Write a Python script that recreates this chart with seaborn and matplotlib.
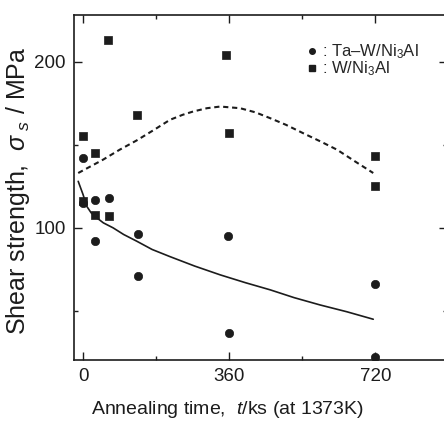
# Shear strength vs annealing time (Ta-W/Ni3Al and W/Ni3Al)
import numpy as np
import pandas as pd
import matplotlib
matplotlib.use("Agg")
import matplotlib.pyplot as plt
from matplotlib.ticker import MultipleLocator
from matplotlib.lines import Line2D
import seaborn as sns

# ---- data ----
# Ta-W/Ni3Al (circles)
taw_time = [0, 0, 30, 64, 30, 136, 358, 136, 720, 360, 720]
taw_strength = [142, 115, 117, 118, 92, 96, 95, 71, 66, 37, 22]

# W/Ni3Al (squares)
w_time = [62, 353, 133, 360, 0, 30, 720, 720, 0, 30, 64]
w_strength = [213, 204, 168, 157, 155, 145, 143, 125, 116, 108, 107]

# fitted trend curves
taw_curve_time = [-12, 0, 9, 20, 34, 50, 74, 100, 132, 170, 214, 275,
                  338, 400, 461, 520, 584, 650, 715]
taw_curve = [128, 120, 113, 109, 106, 103, 100, 96, 92, 87, 82.7, 77,
             71.7, 67, 62.7, 58, 53.6, 49.5, 45]
w_curve_time = [-12, 49, 90, 132, 175, 214, 245, 271, 305, 338, 387,
                425, 461, 500, 542, 585, 626, 670, 715]
w_curve = [133, 141, 147, 152.6, 159, 165, 168, 170, 172, 173, 172,
           169.5, 166, 162, 157, 152, 147, 140, 133]

x_ticks = [0, 360, 720]
y_ticks = [100, 200]

# ---- plot ----
sns.set_style("ticks")
plt.rcParams["font.family"] = ["Liberation Sans", "DejaVu Sans"]
plt.rcParams["mathtext.fontset"] = "custom"
plt.rcParams["mathtext.rm"] = "Liberation Sans"
plt.rcParams["mathtext.it"] = "Liberation Sans:italic"

fig = plt.figure(figsize=(4.44, 4.21), dpi=100)
ax = fig.add_axes([0.167, 0.145, 0.840, 0.819])

ink = "#1c1c1c"

df_taw = pd.DataFrame({"t": taw_time, "s": taw_strength})
df_w = pd.DataFrame({"t": w_time, "s": w_strength})

sns.lineplot(x=taw_curve_time, y=taw_curve, ax=ax, color=ink, lw=1.2,
             sort=False)
sns.lineplot(x=w_curve_time, y=w_curve, ax=ax, color=ink, lw=1.5,
             linestyle=(0, (2.5, 1.8)), sort=False)
sns.scatterplot(data=df_taw, x="t", y="s", ax=ax, marker="o", s=36,
                color=ink, edgecolor=ink, linewidth=0.5, zorder=3)
sns.scatterplot(data=df_w, x="t", y="s", ax=ax, marker="s", s=30,
                color=ink, edgecolor=ink, linewidth=0.5, zorder=3)

ax.set_xlim(-22, 897)
ax.set_ylim(20.5, 228)
ax.set_xticks(x_ticks)
ax.set_yticks(y_ticks)
ax.xaxis.set_minor_locator(MultipleLocator(180))
ax.yaxis.set_minor_locator(MultipleLocator(50))
ax.tick_params(which="both", direction="in", top=True, right=True,
               labelsize=13.5, colors=ink, width=1.0)
ax.tick_params(which="major", length=6, pad=6)
ax.tick_params(which="minor", length=3)
for sp in ax.spines.values():
    sp.set_visible(True)
    sp.set_linewidth(1.2)
    sp.set_color(ink)

ax.set_xlabel("Annealing time,  $t$/ks (at 1373K)", fontsize=14,
              color=ink)
ax.set_ylabel("Shear strength,  $\\sigma_{\\ s}$ / MPa", fontsize=18,
              color=ink)
ax.xaxis.set_label_coords(0.41, -0.112)
ax.yaxis.set_label_coords(-0.112, 0.49)

handles = [
    Line2D([], [], marker="o", ls="", color=ink, markersize=4),
    Line2D([], [], marker="s", ls="", color=ink, markersize=4),
]
labels = [": Ta\u2013W/Ni$_3$Al", ": W/Ni$_3$Al"]
ax.legend(handles, labels, loc="upper left", bbox_to_anchor=(0.607, 0.94),
          frameon=False, fontsize=12, handlelength=0.6, handletextpad=0.3,
          labelspacing=-0.1, borderaxespad=0)

fig.savefig("out.png", dpi=100, facecolor="white")
